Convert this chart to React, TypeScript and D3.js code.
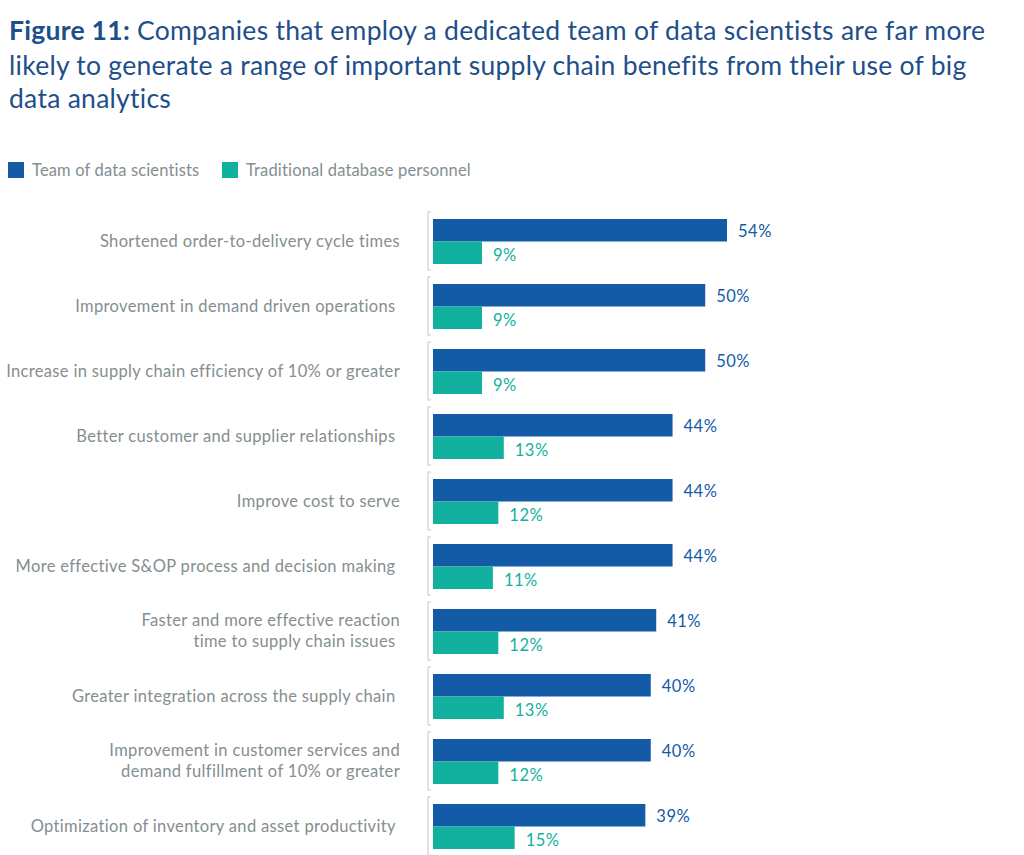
import React from "react";
import * as d3 from "d3";

const categories: string[][] = [
  ["Shortened order-to-delivery cycle times"],
  ["Improvement in demand driven operations "],
  ["Increase in supply chain efficiency of 10% or greater"],
  ["Better customer and supplier relationships "],
  ["Improve cost to serve"],
  ["More effective S&OP process and decision making "],
  ["Faster and more effective reaction", "time to supply chain issues "],
  ["Greater integration across the supply chain "],
  ["Improvement in customer services and", "demand fulfillment of 10% or greater"],
  ["Optimization of inventory and asset productivity "],
];
const dataScientists = [54, 50, 50, 44, 44, 44, 41, 40, 40, 39];
const traditional = [9, 9, 9, 13, 12, 11, 12, 13, 12, 15];
const seriesNames = ["Team of data scientists", "Traditional database personnel"];

const BLUE = "#135aa7";
const TEAL = "#12b09f";
const GRAY = "#858e90";
const TITLE = "#1e4f8a";
const FONT = "Lato, 'Noto Sans', sans-serif";

export default function App() {
  const W = 1024, H = 855;
  const x = d3.scaleLinear().domain([0, 54]).range([433, 727]);
  const y = d3.scaleBand<number>().domain(d3.range(categories.length)).range([212, 862]).paddingInner(0).paddingOuter(0);
  const barTop = 7, barH = 22.5;
  return (
    <svg width={W} height={H} style={{ position: "absolute", left: 0, top: 0, background: "#fff" }} fontFamily={FONT}>
      <g letterSpacing={0.27}>
        <text x={9} y={40} fontSize={26.5} fill={TITLE}>
          <tspan fontWeight="bold">Figure 11:</tspan> Companies that employ a dedicated team of data scientists are far more
        </text>
        <text x={9} y={75} fontSize={26.5} fill={TITLE}>likely to generate a range of important supply chain benefits from their use of big</text>
        <text x={9} y={108} fontSize={26.5} fill={TITLE}>data analytics</text>
      </g>

      {seriesNames.map((s, i) => {
        const lx = i === 0 ? 8 : 222;
        return (
          <g key={s}>
            <rect x={lx} y={162} width={16} height={16} fill={i === 0 ? BLUE : TEAL} />
            <text x={lx + 24} y={176} fontSize={16.5} letterSpacing={0.15} fill={GRAY}>{s}</text>
          </g>
        );
      })}

      {categories.map((lines, i) => {
        const y0 = y(i)!;
        const cy = y0 + barTop + barH;
        return (
          <g key={i}>
            <path d={`M431,${y0} H428 V${y0 + 58} H431`} stroke="#d8dcdc" strokeWidth={1.5} fill="none" />
            <rect x={x(0)} y={y0 + barTop} width={x(dataScientists[i]) - x(0)} height={barH} fill={BLUE} />
            <rect x={x(0)} y={y0 + barTop + barH} width={x(traditional[i]) - x(0)} height={barH} fill={TEAL} />
            <text x={x(dataScientists[i]) + 11} y={y0 + barTop + barH / 2 + 7} fontSize={16.5} letterSpacing={0.5} fill={BLUE}>{dataScientists[i]}%</text>
            <text x={x(traditional[i]) + 11} y={y0 + barTop + barH * 1.5 + 8} fontSize={16.5} letterSpacing={0.5} fill={TEAL}>{traditional[i]}%</text>
            {lines.map((ln, j) => (
              <text key={j} x={400} textAnchor="end" y={cy + 5 + (j - (lines.length - 1) / 2) * 21} fontSize={16.5} letterSpacing={0.34} style={{ whiteSpace: "pre" }} fill={GRAY}>{ln}</text>
            ))}
          </g>
        );
      })}
    </svg>
  );
}
